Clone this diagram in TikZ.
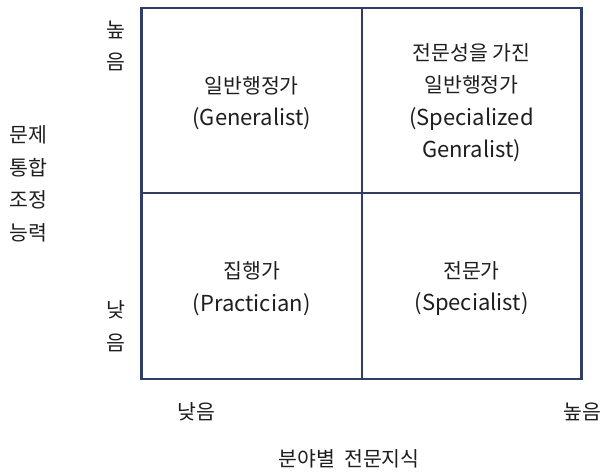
\documentclass[tikz,border=0pt]{standalone}
\usepackage{fontspec}
\setmainfont{Noto Sans CJK KR}
\newcommand{\lat}[1]{{\fontsize{22}{32.5}\selectfont #1}}
\definecolor{navy}{HTML}{2F3D68}
\definecolor{txt}{HTML}{1E1E1E}
\tikzset{
  lbl/.style={font=\fontsize{20.5}{32.5}\selectfont, text=txt, align=center, inner sep=0pt},
  frame/.style={draw=navy, line width=2.7pt},
  divider/.style={draw=navy, line width=2.2pt}
}
\begin{document}
\begin{tikzpicture}[x=1pt,y=-1pt]
\useasboundingbox (0,0) rectangle (603,472);
\coordinate (tl) at (141.5,8);
\coordinate (br) at (581.5,379);
\coordinate (mt) at (362,8);
\coordinate (mb) at (362,379);
\coordinate (ml) at (141.5,193);
\coordinate (mr) at (581.5,193);
\draw[divider] (mt) -- (mb);
\draw[divider] (ml) -- (mr);
\draw[frame] (tl) rectangle (br);
\node[lbl] (c1) at (251.7,103) {일반행정가\\\lat{(Generalist)}};
\node[lbl] (c2) at (471.5,102.5) {전문성을~가진\\일반행정가\\\lat{(Specialized}\\\lat{Genralist)}};
\node[lbl] (c3) at (251.7,288.5) {집행가\\\lat{(Practician)}};
\node[lbl] (c4) at (471.5,288.5) {전문가\\\lat{(Specialist)}};
\node[lbl] (yhigh) at (116,46) {높\\음};
\node[lbl] (ylow) at (116,326) {낮\\음};
\node[lbl] (ytitle) at (28,184) {문제\\통합\\조정\\능력};
\node[lbl] (xlow) at (196,412) {낮음};
\node[lbl] (xhigh) at (582,412) {높음};
\node[lbl] (xtitle) at (349,459) {분야별~~전문지식};
\end{tikzpicture}
\end{document}
